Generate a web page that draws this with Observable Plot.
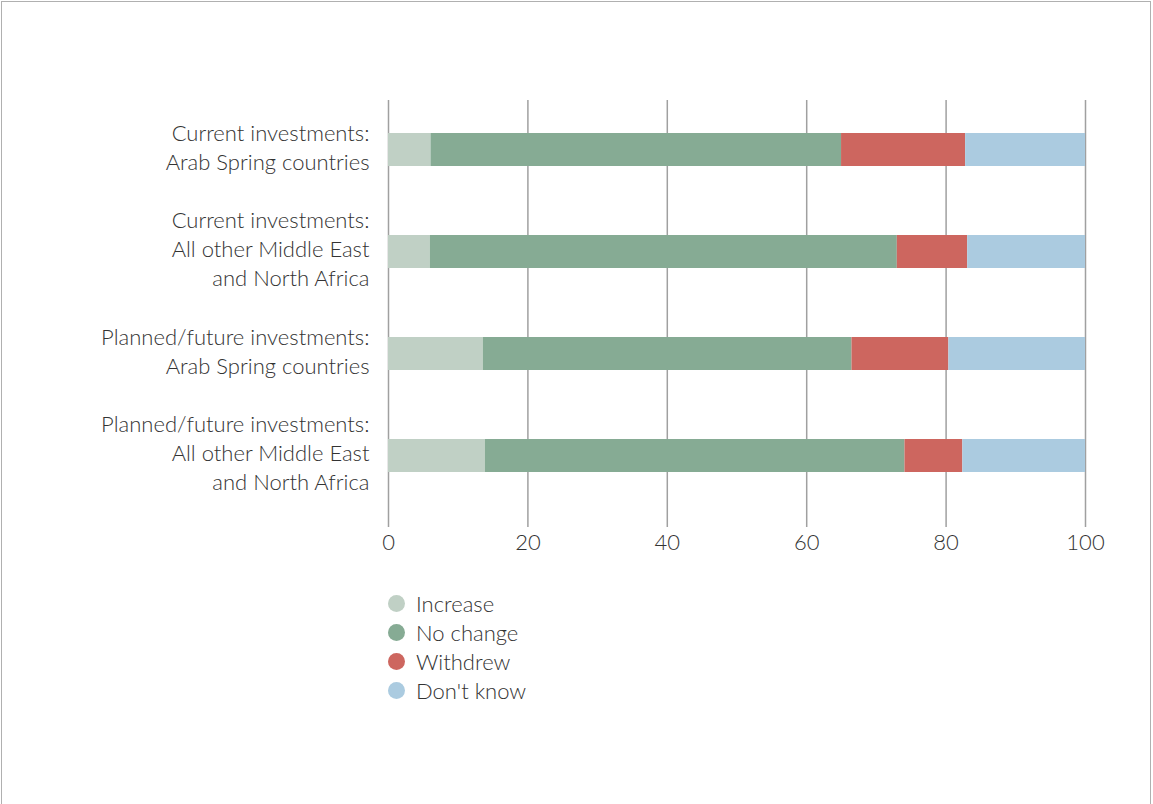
<!DOCTYPE html>
<html>
<head>
<meta charset="utf-8">
<script src="https://cdn.jsdelivr.net/npm/d3@7"></script>
<script src="https://cdn.jsdelivr.net/npm/@observablehq/plot@0.6"></script>
<style>
  html, body { margin: 0; padding: 0; background: #fff; }
  #frame { position: absolute; left: 1px; top: 1px; width: 1150px; height: 820px; border: 1px solid #b0b0b0; box-sizing: border-box; }
  #chart { position: absolute; left: 0; top: 0; }
  #legend { position: absolute; left: 388px; top: 589px; font-family: Lato, "Open Sans", sans-serif; font-size: 22px; color: #333; font-weight: 300; }
  .row { display: flex; align-items: center; height: 29px; }
  .sw { width: 17px; height: 17px; border-radius: 50%; margin-right: 11px; }
</style>
</head>
<body>
<div id="frame"></div>
<div id="chart"></div>
<div id="legend"></div>
<script>
const categories = [
  "Current investments:\nArab Spring countries",
  "Current investments:\nAll other Middle East\nand North Africa",
  "Planned/future investments:\nArab Spring countries",
  "Planned/future investments:\nAll other Middle East\nand North Africa"
];
const responses = ["Increase", "No change", "Withdrew", "Don't know"];
const increase = [6.1, 6.0, 13.6, 13.9];
const noChange = [58.9, 67.0, 52.9, 60.2];
const withdrew = [17.8, 10.1, 13.9, 8.3];
const dontKnow = [17.2, 16.9, 19.6, 17.6];
const colors = ["#c0d0c5", "#86ab94", "#cd665f", "#abcbe0"];
const xTicks = [0, 20, 40, 60, 80, 100];

const series = [increase, noChange, withdrew, dontKnow];
const data = [];
categories.forEach((c, i) => {
  responses.forEach((r, j) => data.push({category: c, response: r, value: series[j][i]}));
});

const font = "Lato, 'Open Sans', sans-serif";
const chart = Plot.plot({
  width: 1153,
  height: 562,
  marginLeft: 388,
  marginRight: 68,
  marginTop: 100,
  marginBottom: 35,
  style: {fontFamily: font, fontSize: "22px", color: "#333", background: "transparent", fontWeight: 300},
  x: {domain: [0, 100], ticks: xTicks, label: null},
  y: {domain: categories, paddingInner: 0.672, paddingOuter: 0.42, align: 0.38, label: null},
  color: {domain: responses, range: colors},
  marks: [
    Plot.gridX(xTicks, {stroke: "#a0a0a0", strokeOpacity: 1, strokeWidth: 1.5}),
    Plot.barX(data, Plot.stackX({x: "value", y: "category", fill: "response", order: responses})),
    Plot.axisX(xTicks, {tickSize: 0, tickPadding: 7, fontSize: 22, fill: "#333", label: null}),
    Plot.axisY({tickSize: 0, tickPadding: 19, fontSize: 22, lineHeight: 1.32, dy: -4, fill: "#333", label: null})
  ]
});
document.getElementById("chart").appendChild(chart);

const legend = document.getElementById("legend");
responses.forEach((r, i) => {
  const row = document.createElement("div");
  row.className = "row";
  const sw = document.createElement("span");
  sw.className = "sw";
  sw.style.background = colors[i];
  const t = document.createElement("span");
  t.textContent = r;
  row.appendChild(sw);
  row.appendChild(t);
  legend.appendChild(row);
});
</script>
</body>
</html>
